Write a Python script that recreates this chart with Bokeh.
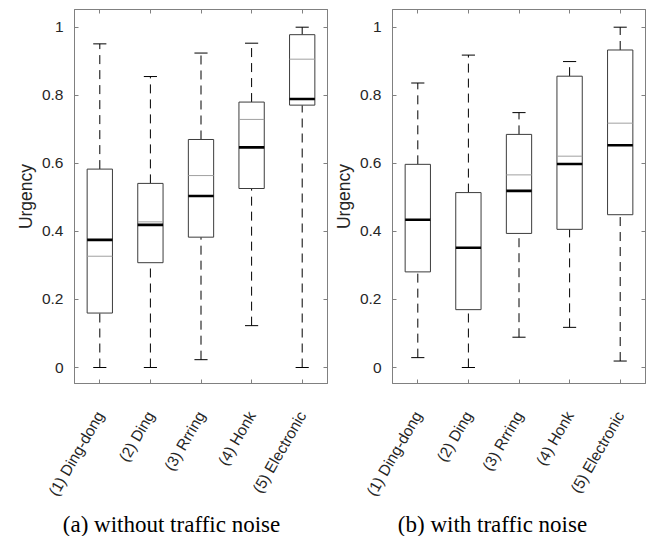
import math
from bokeh.plotting import figure
from bokeh.layouts import row, column
from bokeh.models import (ColumnDataSource, FactorRange, Range1d, FixedTicker,
                          PrintfTickFormatter, LinearAxis, CategoricalAxis, Label)
from bokeh.transform import dodge
from bokeh.embed import file_html
from bokeh.resources import INLINE

# ---------------- data ----------------
cats = ["(1) Ding-dong", "(2) Ding", "(3) Rrring", "(4) Honk", "(5) Electronic"]

# (a) without traffic noise
low_a = [0.0, 0.0, 0.023, 0.123, 0.0]
q1_a = [0.160, 0.308, 0.383, 0.526, 0.771]
med_a = [0.375, 0.419, 0.504, 0.647, 0.789]
mean_a = [0.327, 0.428, 0.564, 0.729, 0.906]
q3_a = [0.583, 0.541, 0.670, 0.780, 0.978]
high_a = [0.951, 0.855, 0.924, 0.953, 1.0]

# (b) with traffic noise
low_b = [0.029, 0.0, 0.089, 0.118, 0.019]
q1_b = [0.281, 0.170, 0.394, 0.406, 0.449]
med_b = [0.434, 0.352, 0.519, 0.598, 0.653]
mean_b = [0.434, 0.352, 0.566, 0.621, 0.718]
q3_b = [0.597, 0.514, 0.685, 0.856, 0.933]
high_b = [0.836, 0.918, 0.749, 0.899, 1.0]

y_ticks = [0, 0.2, 0.4, 0.6, 0.8, 1]
y_label = "Urgency"
captions = ["(a) without traffic noise", "(b) with traffic noise"]

FRAME = "#808080"
TXT = "#262626"
SANS = "Liberation Sans"


def make(low, q1, med, mean, q3, high, width, bl, br):
    src = ColumnDataSource(dict(cat=cats, low=low, q1=q1, med=med, mean=mean, q3=q3, high=high))
    p = figure(x_range=FactorRange(*cats), y_range=Range1d(-0.047, 1.052),
               width=width, height=506, output_backend="svg", toolbar_location=None,
               min_border_left=bl, min_border_right=br, min_border_top=9, min_border_bottom=121)
    p.grid.visible = False
    p.outline_line_color = FRAME
    p.background_fill_color = "white"
    p.border_fill_color = "white"

    xr = p.x_range
    # whiskers
    p.segment(x0="cat", y0="q3", x1="cat", y1="high", source=src,
              line_color="black", line_width=1, line_dash="9 6")
    p.segment(x0="cat", y0="low", x1="cat", y1="q1", source=src,
              line_color="black", line_width=1, line_dash="9 6")
    # caps
    p.segment(x0=dodge("cat", -0.13, range=xr), y0="high", x1=dodge("cat", 0.13, range=xr), y1="high",
              source=src, line_color="black", line_width=1)
    p.segment(x0=dodge("cat", -0.13, range=xr), y0="low", x1=dodge("cat", 0.13, range=xr), y1="low",
              source=src, line_color="black", line_width=1)
    # boxes
    p.vbar(x="cat", width=0.5, bottom="q1", top="q3", source=src,
           fill_color="white", line_color="#3c3c3c", line_width=1)
    # mean (grey) line
    p.segment(x0=dodge("cat", -0.25, range=xr), y0="mean", x1=dodge("cat", 0.25, range=xr), y1="mean",
              source=src, line_color="#a0a0a0", line_width=1)
    # median
    p.segment(x0=dodge("cat", -0.25, range=xr), y0="med", x1=dodge("cat", 0.25, range=xr), y1="med",
              source=src, line_color="black", line_width=2.6, line_cap="butt")

    # axes
    xa = p.xaxis[0]
    xa.major_tick_in = 4
    xa.major_tick_out = 0
    xa.major_tick_line_color = FRAME
    xa.axis_line_color = FRAME
    xa.major_label_orientation = math.pi / 3
    xa.major_label_standoff = 29
    xa.major_label_text_font = SANS
    xa.major_label_text_font_size = "15.5px"
    xa.major_label_text_color = TXT

    ya = p.yaxis[0]
    ya.ticker = FixedTicker(ticks=y_ticks)
    ya.formatter = PrintfTickFormatter(format="%g")
    ya.major_tick_in = 4
    ya.major_tick_out = 0
    ya.minor_tick_line_color = None
    ya.major_tick_line_color = FRAME
    ya.axis_line_color = FRAME
    ya.major_label_standoff = 11
    ya.major_label_text_font = SANS
    ya.major_label_text_font_size = "15.5px"
    ya.major_label_text_color = TXT
    ya.axis_label = y_label
    ya.axis_label_text_font = SANS
    ya.axis_label_text_font_size = "17.5px"
    ya.axis_label_text_font_style = "normal"
    ya.axis_label_text_color = TXT
    ya.axis_label_standoff = 3

    ra = LinearAxis(ticker=FixedTicker(ticks=y_ticks), major_label_text_font_size="1px",
                    major_label_text_color=None,
                    major_tick_in=4, major_tick_out=0, minor_tick_line_color=None,
                    major_tick_line_color=FRAME, axis_line_color=FRAME, major_label_standoff=0)
    p.add_layout(ra, "right")
    ta = CategoricalAxis(major_label_text_font_size="1px", major_label_text_color=None,
                         major_tick_in=4, major_tick_out=0,
                         major_tick_line_color=FRAME, axis_line_color=FRAME, major_label_standoff=0)
    p.add_layout(ta, "above")
    return p


p1 = make(low_a, q1_a, med_a, mean_a, q3_a, high_a, 328, 74, 1)
p2 = make(low_b, q1_b, med_b, mean_b, q3_b, high_b, 322, 64, 5)

# caption strip
pc = figure(width=650, height=30, output_backend="svg", toolbar_location=None,
            x_range=Range1d(0, 1), y_range=Range1d(0, 1),
            min_border=0, min_border_left=0, min_border_right=0, min_border_top=0, min_border_bottom=0)
pc.axis.visible = False
pc.grid.visible = False
pc.outline_line_color = None
for cap, cx in zip(captions, [171, 492]):
    pc.add_layout(Label(x=cx, y=12, x_units="screen", y_units="screen", text=cap,
                        text_align="center", text_baseline="middle",
                        text_font="Liberation Serif", text_font_size="23px", text_color="black"))

layout = column(row(p1, p2, spacing=0), pc, spacing=0)
open("out.html", "w").write(file_html(layout, INLINE))
